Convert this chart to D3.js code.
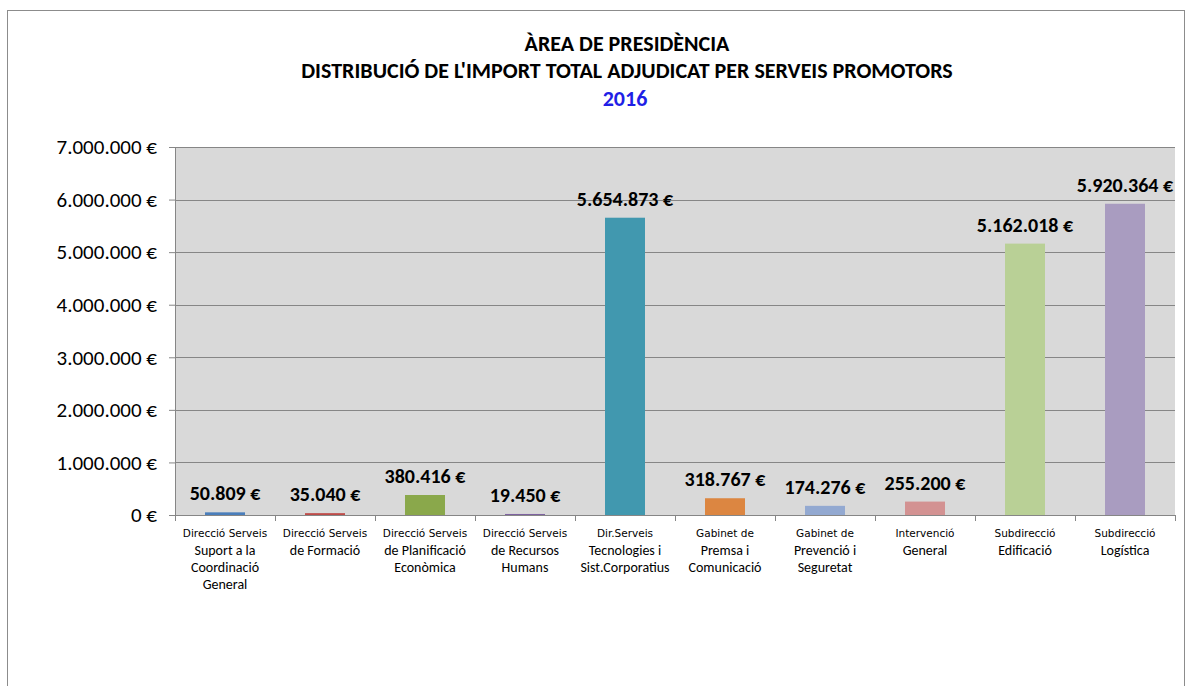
<!DOCTYPE html>
<html>
<head>
<meta charset="utf-8">
<script src="https://cdn.jsdelivr.net/npm/d3@7"></script>
<style>
  body { margin: 0; background: #fff; }
  svg { display: block; font-family: Carlito, Calibri, Lato, sans-serif; }
</style>
</head>
<body>
<svg id="chart" width="1187" height="686"></svg>
<script>
// chart data
const categories = [
  ["Direcció Serveis", "Suport a la", "Coordinació", "General"],
  ["Direcció Serveis", "de Formació"],
  ["Direcció Serveis", "de Planificació", "Econòmica"],
  ["Direcció Serveis", "de Recursos", "Humans"],
  ["Dir.Serveis", "Tecnologies i", "Sist.Corporatius"],
  ["Gabinet de", "Premsa i", "Comunicació"],
  ["Gabinet de", "Prevenció i", "Seguretat"],
  ["Intervenció", "General"],
  ["Subdirecció", "Edificació"],
  ["Subdirecció", "Logística"]
];
const values = [50809, 35040, 380416, 19450, 5654873, 318767, 174276, 255200, 5162018, 5920364];
const barColors = ["#4a7ebb", "#be4b48", "#8aa84b", "#7e62a0", "#4198af", "#dc8641", "#93a9d1", "#d39292", "#b9d096", "#a99cc0"];
const yTicks = [0, 1000000, 2000000, 3000000, 4000000, 5000000, 6000000, 7000000];
const titleLines = ["ÀREA DE PRESIDÈNCIA", "DISTRIBUCIÓ DE L'IMPORT TOTAL ADJUDICAT PER SERVEIS PROMOTORS"];
const yearLabel = "2016";

const svg = d3.select("#chart");

const plot = { left: 175, right: 1175, top: 147, bottom: 515 };

const locale = d3.formatLocale({ decimal: ",", thousands: ".", grouping: [3], currency: ["", " €"] });
const euro = v => locale.format(",.0f")(v) + " €";

// outer chart border
svg.append("rect")
  .attr("x", 7.5).attr("y", 10.5)
  .attr("width", 1177).attr("height", 690)
  .attr("fill", "#fff")
  .attr("stroke", "#8c8c8c");

// title
svg.selectAll(".title")
  .data(titleLines)
  .enter()
  .append("text")
  .attr("class", "title")
  .attr("x", 627)
  .attr("y", (d, i) => 51 + i * 27)
  .attr("text-anchor", "middle")
  .attr("font-size", 22)
  .attr("font-weight", "bold")
  .attr("fill", "#000")
  .text(d => d);

svg.append("text")
  .attr("x", 625)
  .attr("y", 106)
  .attr("text-anchor", "middle")
  .attr("font-size", 22)
  .attr("font-weight", "bold")
  .attr("fill", "#1f1fe6")
  .text(yearLabel);

const x = d3.scaleBand()
  .domain(d3.range(values.length))
  .range([plot.left, plot.right])
  .paddingInner(0.6)
  .paddingOuter(0.3);

const y = d3.scaleLinear()
  .domain([0, 7000000])
  .range([plot.bottom, plot.top]);

// plot area
svg.append("rect")
  .attr("x", plot.left).attr("y", plot.top)
  .attr("width", plot.right - plot.left)
  .attr("height", plot.bottom - plot.top)
  .attr("fill", "#d9d9d9");

// y axis with gridlines
const yAxis = svg.append("g")
  .attr("transform", `translate(${plot.left},0)`)
  .call(d3.axisLeft(y).tickValues(yTicks).tickFormat(euro).tickSize(6).tickPadding(12));

yAxis.select(".domain").attr("stroke", "#868686");
yAxis.selectAll(".tick line").attr("stroke", "#868686");
yAxis.selectAll(".tick text")
  .attr("font-size", 21)
  .attr("fill", "#000")
  .attr("font-family", "Carlito, Calibri, Lato, sans-serif");

svg.append("g")
  .selectAll("line")
  .data(yTicks.filter(t => t > 0))
  .enter()
  .append("line")
  .attr("x1", plot.left).attr("x2", plot.right)
  .attr("y1", d => Math.round(y(d)) + 0.5)
  .attr("y2", d => Math.round(y(d)) + 0.5)
  .attr("stroke", "#868686");

// bars
svg.append("g")
  .selectAll("rect")
  .data(values)
  .enter()
  .append("rect")
  .attr("x", (d, i) => x(i))
  .attr("y", d => y(d))
  .attr("width", x.bandwidth())
  .attr("height", d => y(0) - y(d))
  .attr("fill", (d, i) => barColors[i]);

// x axis line and boundary ticks
svg.append("line")
  .attr("x1", plot.left).attr("x2", plot.right)
  .attr("y1", plot.bottom + 0.5).attr("y2", plot.bottom + 0.5)
  .attr("stroke", "#868686");

svg.append("g")
  .selectAll("line")
  .data(d3.range(values.length + 1))
  .enter()
  .append("line")
  .attr("x1", i => Math.round(plot.left + i * x.step()) + 0.5)
  .attr("x2", i => Math.round(plot.left + i * x.step()) + 0.5)
  .attr("y1", plot.bottom)
  .attr("y2", plot.bottom + 6)
  .attr("stroke", "#868686");

// value labels
svg.append("g")
  .selectAll("text")
  .data(values)
  .enter()
  .append("text")
  .attr("x", (d, i) => x(i) + x.bandwidth() / 2)
  .attr("y", d => y(d) - 12)
  .attr("text-anchor", "middle")
  .attr("font-size", 20)
  .attr("font-weight", "bold")
  .attr("fill", "#000")
  .text(d => euro(d));

// category labels
const catLabels = svg.append("g")
  .selectAll("text")
  .data(categories)
  .enter()
  .append("text")
  .attr("x", (d, i) => x(i) + x.bandwidth() / 2)
  .attr("text-anchor", "middle")
  .attr("fill", "#000");

catLabels.selectAll("tspan")
  .data(d => d)
  .enter()
  .append("tspan")
  .attr("x", function() { return this.parentNode.getAttribute("x"); })
  .attr("y", (d, j) => j === 0 ? 537 : 538 + j * 17)
  .attr("font-family", (d, j) => j === 0 ? "'DejaVu Sans', sans-serif" : null)
  .attr("font-size", (d, j) => j === 0 ? 10.5 : 14)
  .text(d => d);
</script>
</body>
</html>
